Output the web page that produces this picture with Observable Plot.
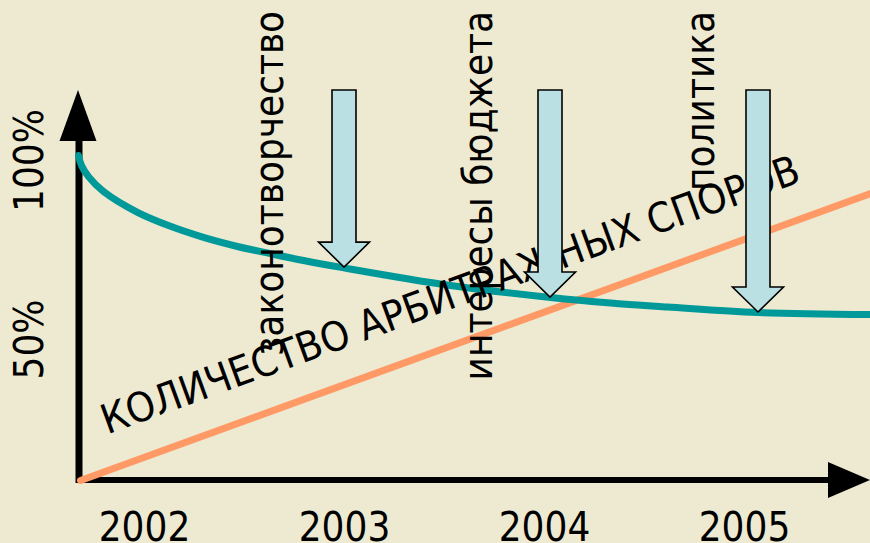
<!DOCTYPE html>
<html><head><meta charset="utf-8">
<script src="https://cdn.jsdelivr.net/npm/d3@7"></script>
<script src="https://cdn.jsdelivr.net/npm/@observablehq/plot@0.6"></script>
<style>
html,body{margin:0;padding:0;background:#EDEAD1;}
#chart svg{display:block;}
</style></head><body><div id="chart"></div>
<script>
// ---- data ----
const years = [2002, 2003, 2004, 2005];
const yearLabels = ["2002", "2003", "2004", "2005"];
const yTickValues = [100, 50];
const yTickLabels = ["100%", "50%"];
const tealYears  = [2001.67, 2001.685, 2001.72, 2001.795, 2001.965, 2002.13, 2002.295, 2002.465, 2002.63, 2002.795, 2002.99, 2003.53, 2004.03, 2004.33, 2004.615, 2005.065, 2005.63];
const tealValues = [100, 96.9, 93.5, 88.9, 82.5, 78.2, 74.8, 72.0, 69.8, 67.7, 65.5, 60, 56.3, 54.6, 53.4, 51.7, 51.1];
const orangeYears  = [2001.68, 2005.63];
const orangeValues = [0, 88.3];
const arrowYears = [2003.0, 2004.03, 2005.07];
const arrowTips  = [65.5, 56.3, 51.7];
const arrowTop = 120;
const arrowLabels = ["законотворчество", "интересы бюджета", "политика"];
const arrowLabelYears = [2002.69, 2003.735, 2004.845];
const arrowLabelTop = 144.5;
const diagonalLabel = "КОЛИЧЕСТВО АРБИТРАЖНЫХ СПОРОВ";
const diagonalYear = 2001.8135, diagonalValue = 14.15;
const axisOriginYear = 2001.67, axisEndYear = 2005.63, axisTopValue = 120;
const yLabelYear = 2001.49;

// ---- tables ----
const teal = tealYears.map((x, i) => ({x, y: tealValues[i]}));
const orange = orangeYears.map((x, i) => ({x, y: orangeValues[i]}));
const arrows = arrowYears.map((x, i) => ({x, tip: arrowTips[i]}));
const arrowText = arrowLabels.map((t, i) => ({t, x: arrowLabelYears[i]}));
const yTicks = yTickValues.map((v, i) => ({v, label: yTickLabels[i]}));
const xTicks = years.map((v, i) => ({v, label: yearLabels[i]}));

const FONT = '"DejaVu Sans Condensed", "DejaVu Sans", sans-serif';

// axes with filled arrow heads, drawn through the plot's scales
const axesMark = (index, scales) => {
  const {x, y} = scales;
  const ox = x(axisOriginYear), oy = y(0), ex = x(axisEndYear), ty = y(axisTopValue);
  const g = d3.create("svg:g");
  const yHeadH = 51, yHeadW = 18.5, xHeadL = 42, xHeadW = 18;
  g.append("line").attr("x1", ox + 1).attr("x2", ox + 1).attr("y1", oy + 3).attr("y2", ty + yHeadH - 2)
    .attr("stroke", "black").attr("stroke-width", 7);
  g.append("path").attr("d", `M${ox},${ty}L${ox + yHeadW},${ty + yHeadH}L${ox - yHeadW},${ty + yHeadH}Z`).attr("fill", "black");
  g.append("line").attr("x1", ox - 2).attr("x2", ex - xHeadL + 2).attr("y1", oy).attr("y2", oy)
    .attr("stroke", "black").attr("stroke-width", 6);
  g.append("path").attr("d", `M${ex},${oy}L${ex - xHeadL},${oy - xHeadW}L${ex - xHeadL},${oy + xHeadW}Z`).attr("fill", "black");
  return g.node();
};

// block arrows pointing down onto the curve
const arrowsMark = (index, scales) => {
  const {x, y} = scales;
  const g = d3.create("svg:g");
  const top = y(arrowTop), sw = 12, hw = 25.5, hh = 25;
  for (const a of arrows) {
    const cx = x(a.x), tip = y(a.tip), hb = tip - hh;
    g.append("path")
      .attr("d", `M${cx - sw},${top}L${cx + sw},${top}L${cx + sw},${hb}L${cx + hw},${hb}L${cx},${tip}L${cx - hw},${hb}L${cx - sw},${hb}Z`)
      .attr("fill", "#BBE0E3").attr("stroke", "black").attr("stroke-width", 1.6).attr("stroke-linejoin", "miter");
  }
  return g.node();
};

const chart = Plot.plot({
  width: 870, height: 543, margin: 0,
  x: {domain: [2001.28, 2005.63], range: [0, 870]},
  y: {domain: [-19.385, 147.69], range: [543, 0]},
  style: {background: "#EDEAD1", fontFamily: FONT, fontStretch: "condensed", color: "black", overflow: "visible"},
  marks: [
    axesMark,
    Plot.line(orange, {x: "x", y: "y", stroke: "#FF9966", strokeWidth: 7}),
    Plot.line(teal, {x: "x", y: "y", stroke: "#009999", strokeWidth: 7, curve: "catmull-rom"}),
    Plot.text(xTicks, {x: "v", text: "label", frameAnchor: "bottom", lineAnchor: "bottom", dy: -3, fontSize: 40, fill: "black"}),
    Plot.text(yTicks, {filter: d => d.v === 100, x: () => yLabelYear, y: "v", text: "label", rotate: -90, textAnchor: "middle", lineAnchor: "bottom", dy: 5, fontSize: 40, fill: "black"}),
    Plot.text(yTicks, {filter: d => d.v === 50, x: () => yLabelYear, y: "v", text: "label", rotate: -90, textAnchor: "middle", lineAnchor: "bottom", dy: 21.5, fontSize: 40, fill: "black"}),
    Plot.text(arrowText, {x: "x", y: () => arrowLabelTop, text: "t", rotate: -90, textAnchor: "end", lineAnchor: "bottom", fontSize: 40, fill: "black"}),
    Plot.text([diagonalLabel], {x: () => diagonalYear, y: () => diagonalValue, text: d => d, rotate: -20, textAnchor: "start", lineAnchor: "bottom", fontSize: 41, fill: "black"}),
    arrowsMark
  ]
});
document.getElementById("chart").appendChild(chart);
</script>
</body></html>
